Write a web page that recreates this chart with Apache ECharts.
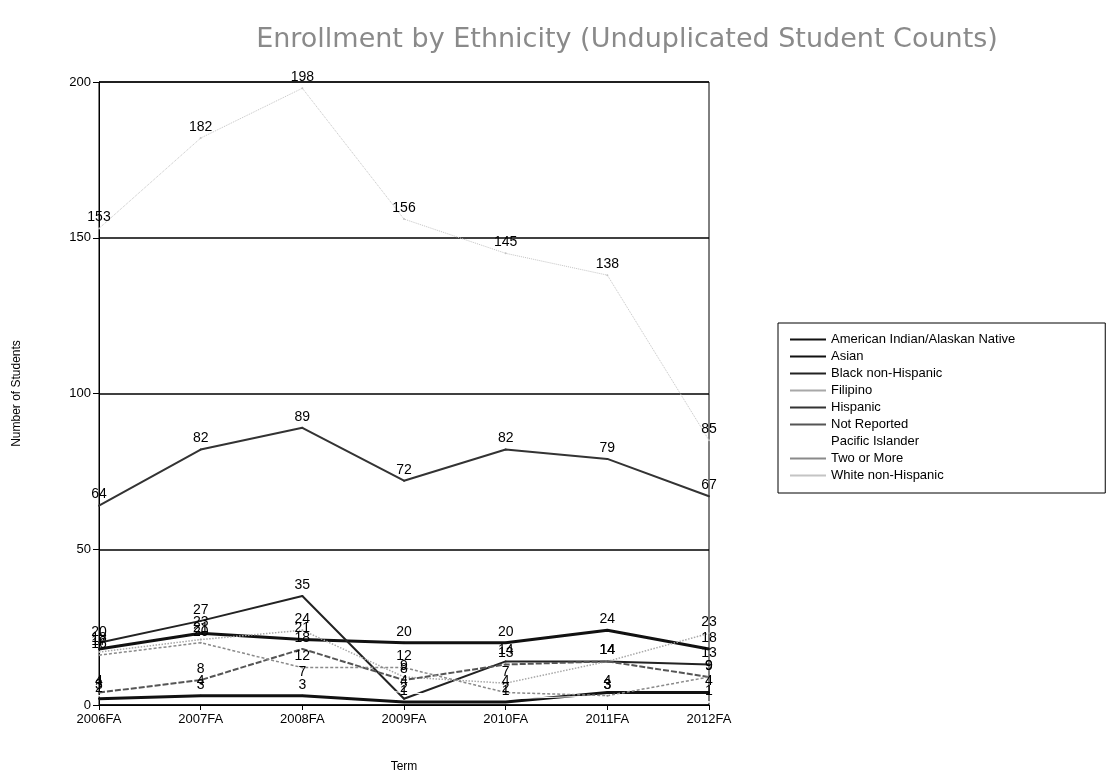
<!DOCTYPE html>
<html>
<head>
<meta charset="utf-8">
<script src="https://cdn.jsdelivr.net/npm/echarts@6/dist/echarts.min.js"></script>
<style>
  html, body { margin: 0; padding: 0; background: #fff; }
  #chart { width: 1106px; height: 778px; }
</style>
</head>
<body>
<div id="chart"></div>
<script>
// Terms (fall semesters)
const terms = ['2006FA', '2007FA', '2008FA', '2009FA', '2010FA', '2011FA', '2012FA'];

// Unduplicated student counts per ethnicity
const americanIndian = [2, 3, 3, 1, 1, 4, 4];
const asian          = [18, 23, 21, 20, 20, 24, 18];
const black          = [20, 27, 35, 2, 14, 14, 13];
const filipino       = [17, 21, 24, 9, 7, 14, 23];
const hispanic       = [64, 82, 89, 72, 82, 79, 67];
const notReported    = [4, 8, 18, 8, 13, 14, 9];
const pacificIslander = [3, 4, 7, 4, 2, 3, 1];
const twoOrMore      = [16, 20, 12, 12, 4, 3, 9];
const white          = [153, 182, 198, 156, 145, 138, 85];

const yTicks = [0, 50, 100, 150, 200];

const labelFont = {
  show: true,
  position: 'top',
  distance: 3,
  color: '#000',
  fontSize: 14,
  fontFamily: 'Liberation Sans Narrow, Liberation Sans, Arial, sans-serif'
};

// thin bar used as the legend swatch
const legendBar = 'path://M0,6L36,6L36,8L0,8Z';

function mkSeries(name, data, color, width, type) {
  return {
    name: name,
    type: 'line',
    data: data,
    symbol: 'circle',
    symbolSize: 2,
    legendIcon: legendBar,
    itemStyle: { color: color },
    lineStyle: { color: color, width: width, type: type },
    label: labelFont,
    emphasis: { disabled: true },
    animation: false
  };
}

const chart = echarts.init(document.getElementById('chart'), null, { renderer: 'canvas' });

chart.setOption({
  backgroundColor: '#fff',
  animation: false,
  title: {
    text: 'Enrollment by Ethnicity (Unduplicated Student Counts)',
    left: 622,
    top: 21,
    textAlign: 'center',
    textStyle: {
      fontFamily: 'DejaVu Sans, Verdana, sans-serif',
      fontSize: 27,
      fontWeight: 'normal',
      color: '#8a8a8a'
    }
  },
  legend: {
    orient: 'vertical',
    left: 778,
    top: 323,
    padding: [10, 90, 11, 12],
    itemWidth: 36,
    itemHeight: 14,
    itemGap: 4,
    borderColor: '#000',
    borderWidth: 1,
    icon: legendBar,
    textStyle: {
      fontFamily: 'Liberation Sans, Arial, sans-serif',
      fontSize: 13,
      color: '#000'
    },
    data: ['American Indian/Alaskan Native', 'Asian', 'Black non-Hispanic', 'Filipino',
           'Hispanic', 'Not Reported', 'Pacific Islander', 'Two or More', 'White non-Hispanic']
  },
  grid: {
    left: 99,
    right: 397,
    top: 82,
    bottom: 72,
    show: true,
    borderColor: '#000',
    borderWidth: 1
  },
  xAxis: {
    type: 'category',
    data: terms,
    boundaryGap: false,
    name: 'Term',
    nameLocation: 'middle',
    nameGap: 56,
    nameTextStyle: { fontFamily: 'Liberation Sans, Arial, sans-serif', fontSize: 12, color: '#000' },
    axisLine: { lineStyle: { color: '#000', width: 1 } },
    axisTick: { show: true, alignWithLabel: true, length: 5, lineStyle: { color: '#000' } },
    axisLabel: { fontFamily: 'Liberation Sans, Arial, sans-serif', fontSize: 13, color: '#000', margin: 8 },
    splitLine: { show: false }
  },
  yAxis: {
    type: 'value',
    min: yTicks[0],
    max: yTicks[yTicks.length - 1],
    interval: 50,
    name: 'Number of Students',
    nameLocation: 'middle',
    nameGap: 76,
    nameTextStyle: { fontFamily: 'Liberation Sans, Arial, sans-serif', fontSize: 12, color: '#000' },
    axisLine: { show: true, lineStyle: { color: '#000', width: 1 } },
    axisTick: { show: true, length: 6, lineStyle: { color: '#000' } },
    axisLabel: { fontFamily: 'Liberation Sans, Arial, sans-serif', fontSize: 13, color: '#000', margin: 8 },
    splitLine: { show: true, lineStyle: { color: '#000', width: 1.5 } }
  },
  series: [
    mkSeries('American Indian/Alaskan Native', americanIndian, '#111', 3, 'solid'),
    mkSeries('Asian', asian, '#111', 3, 'solid'),
    mkSeries('Black non-Hispanic', black, '#222', 2, 'solid'),
    mkSeries('Filipino', filipino, '#a8a8a8', 1.5, 'dotted'),
    mkSeries('Hispanic', hispanic, '#333', 2, 'solid'),
    mkSeries('Not Reported', notReported, '#555', 2, [6, 2]),
    mkSeries('Pacific Islander', pacificIslander, '#ffffff', 1, 'solid'),
    mkSeries('Two or More', twoOrMore, '#8a8a8a', 1.5, [3, 2]),
    mkSeries('White non-Hispanic', white, '#c4c4c4', 1, 'dotted')
  ]
});
</script>
</body>
</html>
